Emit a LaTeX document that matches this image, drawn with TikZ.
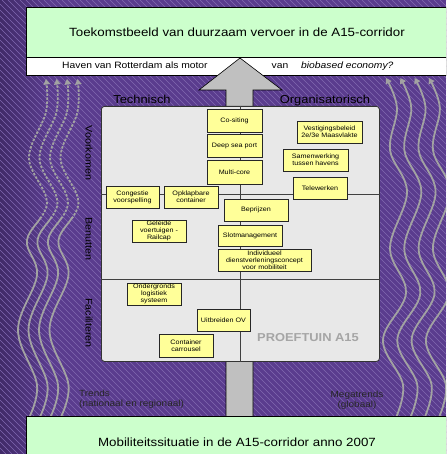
\documentclass[tikz,border=0pt]{standalone}
\usepackage{fontspec}
\setmainfont{Liberation Sans}[FakeStretch=1.12]
\usetikzlibrary{arrows.meta}
\definecolor{bgpurple}{RGB}{90,60,142}
\definecolor{bgdark}{RGB}{64,42,104}
\definecolor{stripecol}{RGB}{128,104,176}
\definecolor{lightgreen}{RGB}{204,255,204}
\definecolor{arrowgray}{RGB}{192,192,192}
\definecolor{panelgray}{RGB}{232,232,232}
\definecolor{boxyellow}{RGB}{255,255,153}
\definecolor{wavegray}{RGB}{162,162,162}
\definecolor{proefgray}{RGB}{165,165,165}
\begin{document}
\begin{tikzpicture}[x=1pt,y=-1pt,
  ybox/.style={draw=black!85, line width=0.6pt, fill=boxyellow, align=center, inner sep=0pt,
    font=\fontsize{6.4}{7.2}\selectfont},
  gbox/.style={draw=black, line width=0.6pt, fill=lightgreen, inner sep=0pt, anchor=north west},
  wbox/.style={draw=black, line width=0.6pt, fill=white, inner sep=0pt, anchor=north west},
  wave/.style={draw=wavegray, line width=1.8pt},
  wavetip/.style={-{Triangle[width=6.5pt,length=5.5pt]}},
  rowlabel/.style={rotate=-90, inner sep=0pt, font=\fontsize{9.6}{11}\selectfont},
  collabel/.style={anchor=base, inner sep=0pt, font=\fontsize{11.5}{13}\selectfont},
  trendtxt/.style={inner sep=0pt, font=\fontsize{8.9}{10}\selectfont, text=black!85, align=left},
]
\useasboundingbox (0,0) rectangle (446,454);
\clip (0,0) rectangle (446,454);
% background
\fill[bgpurple] (0,0) rectangle (446,454);
\shade[left color=bgdark, right color=bgpurple] (0,0) rectangle (50,454);
\foreach \s in {-460,-454,...,446} \draw[stripecol, line width=0.45pt] (\s,0) -- ({\s+454},454);

% left waves (dashed upper part, solid lower part)
\foreach \i in {0,...,3}{
  \pgfmathsetmacro\dx{10.5*\i}
  \begin{scope}
    \clip (0,0) rectangle (100,217);
    \draw[wave, wavetip, dash pattern=on 2.5pt off 1.5pt] plot[smooth, tension=0.6] coordinates {
      ({28+\dx},420) ({37+\dx},385) ({18+\dx},330) ({37+\dx},275) ({27+\dx},240)
      ({47+\dx},203) ({29+\dx},158) ({46+\dx},112) ({46+\dx},79)};
  \end{scope}
  \begin{scope}
    \clip (0,217) rectangle (100,454);
    \draw[wave] plot[smooth, tension=0.6] coordinates {
      ({28+\dx},420) ({37+\dx},385) ({18+\dx},330) ({37+\dx},275) ({27+\dx},240)
      ({47+\dx},203) ({29+\dx},158) ({46+\dx},112) ({46+\dx},79)};
  \end{scope}
}
% right waves
\foreach \i in {0,...,3}{
  \pgfmathsetmacro\dx{14.3*\i}
  \draw[wave, wavetip] plot[smooth, tension=0.6] coordinates {
    ({395+\dx},420) ({403+\dx},385) ({383+\dx},340) ({406+\dx},293) ({390+\dx},248)
    ({407+\dx},192) ({390+\dx},150) ({397+\dx},108) ({386+\dx},78)};
}

% top boxes
\node[gbox, minimum width=420pt, minimum height=50pt] (topbox) at (26,7) {};
\node[wbox, minimum width=420pt, minimum height=18pt] (band) at (26,57) {};
\node[anchor=base, inner sep=0pt, font=\fontsize{11.9}{14}\selectfont] (title) at (237,36.5)
  {Toekomstbeeld van duurzaam vervoer in de A15-corridor};
\node[anchor=base west, inner sep=0pt, font=\fontsize{9.2}{11}\selectfont] (haven) at (62,68.3)
  {Haven van Rotterdam als motor};
\node[anchor=base, inner sep=0pt, font=\fontsize{9.2}{11}\selectfont] (van) at (280,68.3) {van};
\node[anchor=base west, inner sep=0pt, font=\fontsize{9.2}{11}\itshape] (bio) at (301,68.3)
  {biobased economy?};

% big arrow
\coordinate (apex) at (240,58);
\draw[fill=arrowgray, line width=0.6pt, line join=miter] (226,420) -- (226,90) -- (199,90) -- (apex)
  -- (282,90) -- (253,90) -- (253,420) -- cycle;

% panel
\node[draw=black!80, fill=panelgray, rounded corners=3pt, line width=0.8pt, inner sep=0pt,
  minimum width=278pt, minimum height=255pt, anchor=north west] (panel) at (101,106) {};
\draw[black!75, line width=0.7pt] (panel.north) -- (panel.south);
\draw[black!75, line width=0.7pt] ([yshift=-88pt]panel.north west) -- ([yshift=-88pt]panel.north east);
\draw[black!75, line width=0.7pt] ([yshift=-173pt]panel.north west) -- ([yshift=-173pt]panel.north east);

\node[collabel] (tech) at (142,104) {Technisch};
\node[collabel] (org) at (325,104) {Organisatorisch};
\node[rowlabel] (voork) at (89,153) {Voorkomen};
\node[rowlabel] (benut) at (89,239) {Benutten};
\node[rowlabel] (facil) at (89,323) {Faciliteren};

% yellow boxes
\node[ybox, minimum width=55pt, minimum height=23pt] (cositing) at (234.5,120.5) {Co-siting};
\node[ybox, minimum width=55pt, minimum height=23pt] (deepsea) at (234.5,145.5) {Deep sea port};
\node[ybox, minimum width=55pt, minimum height=24pt] (multicore) at (234.5,172) {Multi-core};
\node[ybox, minimum width=65pt, minimum height=22pt] (vestiging) at (329.5,132) {Vestigingsbeleid\\2e/3e Maasvlakte};
\node[ybox, minimum width=65pt, minimum height=22pt] (samenw) at (315.5,160) {Samenwerking\\tussen havens};
\node[ybox, minimum width=54pt, minimum height=22pt] (telew) at (320,188) {Telewerken};
\node[ybox, minimum width=53pt, minimum height=22pt] (congestie) at (132.5,197) {Congestie\\voorspelling};
\node[ybox, minimum width=54pt, minimum height=22pt] (opklap) at (191,197) {Opklapbare\\container};
\node[ybox, minimum width=64pt, minimum height=22pt] (beprijzen) at (256,210) {Beprijzen};
\node[ybox, minimum width=54pt, minimum height=22pt] (geleide) at (159,231) {Geleide\\voertuigen -\\Railcap};
\node[ybox, minimum width=64pt, minimum height=21pt] (slot) at (250,235.5) {Slotmanagement};
\node[ybox, minimum width=93pt, minimum height=22pt] (indiv) at (264.5,260) {Individueel\\dienstverleningsconcept\\voor mobiliteit};
\node[ybox, minimum width=54pt, minimum height=22pt] (ondergr) at (154,294) {Ondergronds\\logistiek\\systeem};
\node[ybox, minimum width=53pt, minimum height=22pt] (uitbr) at (223.5,320) {Uitbreiden OV};
\node[ybox, minimum width=54pt, minimum height=23pt] (carrousel) at (186,345.5) {Container\\carrousel};

\node[inner sep=0pt, text=proefgray, font=\fontsize{11.5}{13}\bfseries] (proef) at (308,338) {PROEFTUIN A15};

% trends
\node[trendtxt, anchor=base west] (trends1) at (79,396.7) {Trends};
\node[trendtxt, anchor=base west] (trends2) at (79,406.7) {(nationaal en regionaal)};
\node[trendtxt, anchor=base] (mega1) at (357,397) {Megatrends};
\node[trendtxt, anchor=base] (mega2) at (357,407) {(globaal)};

% bottom box
\node[gbox, minimum width=420pt, minimum height=42pt] (botbox) at (26,416) {};
\node[anchor=base, inner sep=0pt, font=\fontsize{11.9}{14}\selectfont] (bottitle) at (237,446)
  {Mobiliteitssituatie in de A15-corridor anno 2007};
\end{tikzpicture}
\end{document}
